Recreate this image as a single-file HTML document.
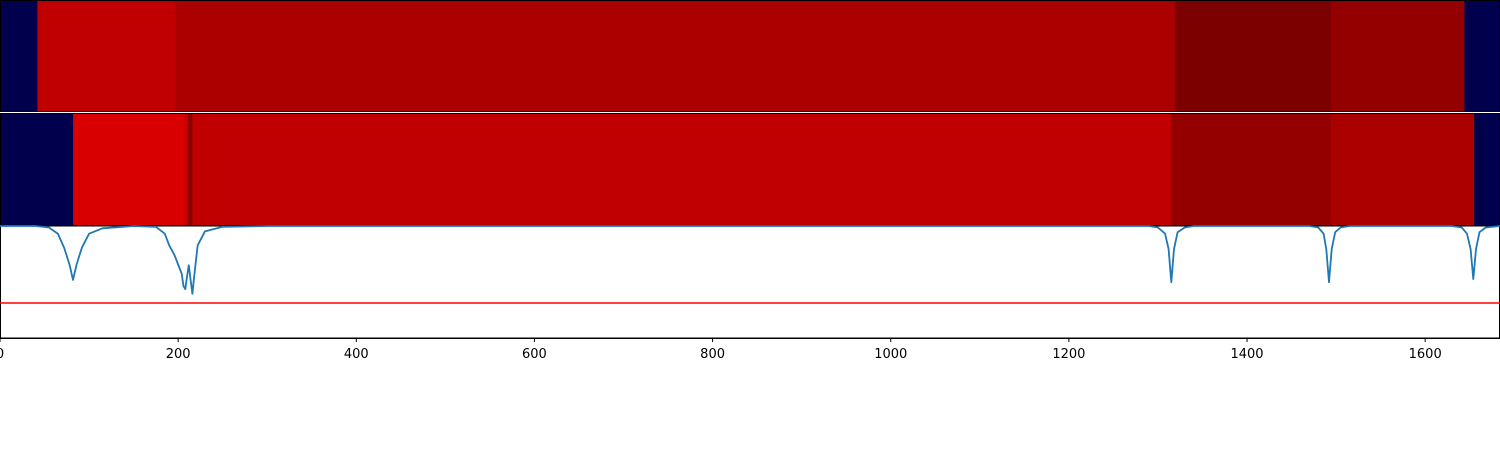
<!DOCTYPE html>
<html><head><meta charset="utf-8"><style>
html,body{margin:0;padding:0;background:#fff;width:1500px;height:450px;overflow:hidden}
svg{display:block;font-family:"DejaVu Sans","Liberation Sans",sans-serif}
</style></head><body>
<svg id="chart" width="1500" height="450" viewBox="0 0 1500 450"></svg>
<script>
const xTicks=[0,200,400,600,800,1000,1200,1400,1600];
const row1Edges=[0,42,197,1319,1494,1644,1684];
const row1Colors=["#00004c","#c00000","#aa0000","#7c0000","#940000","#00004c"];
const row2Edges=[0,82,207,211,216,1315,1494,1655,1684];
const row2Colors=["#00004c","#d80000","#c80000","#8c0000","#c00000","#940000","#aa0000","#00004c"];
const sigX=[0,40,55,65,72,78,82,86,92,100,115,150,175,185,190,196,200,204,206,208,210,212,214,216,218,222,230,250,300,1290,1300,1308,1312,1315,1318,1322,1330,1340,1470,1480,1486,1489,1492,1495,1499,1505,1515,1630,1641,1647,1651,1654,1657,1661,1668,1684];
const sigY=[1,1,0.98,0.9,0.72,0.5,0.3,0.5,0.72,0.9,0.97,1,0.99,0.9,0.75,0.62,0.5,0.38,0.22,0.18,0.35,0.49,0.3,0.12,0.35,0.75,0.93,0.99,1,1,0.98,0.9,0.7,0.27,0.7,0.92,0.98,1,1,0.98,0.9,0.7,0.27,0.7,0.92,0.98,1,1,0.98,0.9,0.7,0.31,0.7,0.92,0.98,1];
const threshold=0;
const svg=document.getElementById('chart');
const NS='http://www.w3.org/2000/svg';
const X0=0,X1=1684,PX0=0,PX1=1500;
const sx=v=>PX0+(v-X0)/(X1-X0)*(PX1-PX0);
const sy=v=>303-v*77;
function mk(t,a){const e=document.createElementNS(NS,t);for(const k in a)e.setAttribute(k,a[k]);svg.appendChild(e);return e;}
function row(edges,colors,y,h,name){
  for(let i=0;i<colors.length;i++){
    const r=mk('rect',{x:sx(edges[i]),y:y,width:sx(edges[i+1])-sx(edges[i])+0.5,height:h,fill:colors[i]});
    
    
  }
  const b=mk('rect',{x:0.5,y:y+0.5,width:1499,height:h-1,fill:'none',stroke:'#000','stroke-width':1});
  
  
}
row(row1Edges,row1Colors,0,112,'heatmap-row-1');
row(row2Edges,row2Colors,113,113,'heatmap-row-2');
const fr=mk('rect',{x:0.5,y:226,width:1499,height:112,fill:'#fff',stroke:'#000','stroke-width':1});


const th=mk('line',{x1:0,x2:1500,y1:sy(threshold),y2:sy(threshold),stroke:'#ff0000','stroke-width':1.5});


let d='';
for(let i=0;i<sigX.length;i++)d+=(i?'L':'M')+sx(sigX[i]).toFixed(1)+','+sy(sigY[i]).toFixed(1);
const ln=mk('path',{d:d,fill:'none',stroke:'#1f77b4','stroke-width':1.8,'stroke-linejoin':'round'});


const ax=mk('line',{x1:0,x2:1500,y1:338.5,y2:338.5,stroke:'#000','stroke-width':1});


xTicks.forEach(t=>{
  const x=sx(t);
  const tk=mk('line',{x1:x,x2:x,y1:338,y2:342,stroke:'#000','stroke-width':1});
  
  
  const tx=mk('text',{x:x,y:358,'font-size':13,'text-anchor':'middle',fill:'#000'});
  tx.textContent=t;
  
  
});
</script>
</body></html>
